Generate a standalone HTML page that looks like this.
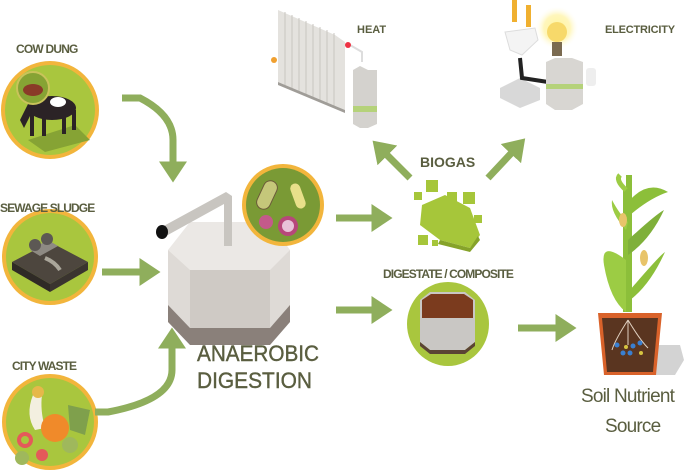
<!DOCTYPE html>
<html><head><meta charset="utf-8"><style>
html,body{margin:0;padding:0;background:#fff}
svg{display:block}
text{font-family:"Liberation Sans",sans-serif;fill:#5a5e40}
</style></head><body>
<svg width="685" height="470" viewBox="0 0 685 470" xmlns="http://www.w3.org/2000/svg">
<defs>
<marker id="ah" markerWidth="4" markerHeight="4" refX="1.5" refY="2" orient="auto" markerUnits="strokeWidth"><path d="M0,0 L3,2 L0,4 Z" fill="#8fae5c"/></marker>
<radialGradient id="glow"><stop offset="0" stop-color="#fff59a"/><stop offset="0.6" stop-color="#fff3a0" stop-opacity="0.7"/><stop offset="1" stop-color="#fff" stop-opacity="0"/></radialGradient>
</defs>

<g>
<circle cx="50" cy="110" r="49" fill="#f2b53c"/><circle cx="50" cy="110" r="45" fill="#a9c63e"/>
<path d="M28,140 L75,125 L90,140 L45,152 Z" fill="#86a334"/>
<ellipse cx="52" cy="108" rx="24" ry="12" fill="#2b2326"/>
<ellipse cx="58" cy="102" rx="8" ry="5" fill="#fff"/>
<rect x="30" y="110" width="4" height="26" fill="#2b2326"/><rect x="42" y="112" width="4" height="24" fill="#2b2326"/><rect x="62" y="112" width="4" height="22" fill="#2b2326"/><rect x="72" y="110" width="4" height="20" fill="#2b2326"/>
<path d="M30,100 L20,120 L24,128 L32,112Z" fill="#2b2326"/>
<circle cx="33" cy="88" r="16" fill="#86a334" stroke="#c9c35a" stroke-width="2"/>
<ellipse cx="33" cy="90" rx="10" ry="6" fill="#8a3a28"/>
</g>
<g>
<circle cx="50" cy="257" r="48" fill="#f2b53c"/><circle cx="50" cy="257" r="44" fill="#a9c63e"/>
<path d="M12,262 L50,242 L88,262 L50,284 Z" fill="#4d463e"/>
<path d="M12,262 L50,284 L50,292 L12,270Z" fill="#2f2a26"/><path d="M88,262 L50,284 L50,292 L88,270Z" fill="#3a342f"/>
<path d="M30,250 L48,240 L58,246 L40,256Z" fill="#8e8a83"/>
<circle cx="35" cy="245" r="6" fill="#5c5854"/><circle cx="47" cy="239" r="6" fill="#5c5854"/>
<path d="M45,258 Q55,262 60,270" stroke="#aaa69a" stroke-width="4" fill="none"/>
</g>
<g>
<circle cx="50" cy="422" r="48" fill="#f2b53c"/><circle cx="50" cy="422" r="44" fill="#a9c63e"/>
<path d="M33,395 Q25,415 35,430 L45,428 Q40,410 42,395Z" fill="#f3efe0"/>
<circle cx="38" cy="392" r="6" fill="#e6b84a"/>
<circle cx="55" cy="428" r="14" fill="#f08a2a"/>
<path d="M68,405 L90,410 L85,435 L70,430Z" fill="#7fa04c"/>
<circle cx="25" cy="440" r="8" fill="#e45a5a"/><circle cx="25" cy="440" r="4" fill="#a9c63e"/>
<circle cx="42" cy="455" r="6" fill="#e45a5a"/>
<circle cx="70" cy="445" r="8" fill="#9fb85c"/><circle cx="22" cy="458" r="7" fill="#9fb85c"/>
</g>
<text x="16" y="53" font-size="12" font-weight="bold" letter-spacing="-0.8">COW DUNG</text>
<text x="0" y="212" font-size="12" font-weight="bold" letter-spacing="-0.9">SEWAGE SLUDGE</text>
<text x="12" y="370" font-size="12" font-weight="bold" letter-spacing="-0.9">CITY WASTE</text>

<g stroke="#8fae5c" stroke-width="7" fill="none">
<path d="M122,98 L140,98 Q173,115 173,140 L173,172" marker-end="url(#ah)"/>
<path d="M102,272 L150,272" marker-end="url(#ah)"/>
<path d="M95,412 L108,412 Q172,400 172,370 L172,338" marker-end="url(#ah)"/>
<path d="M336,218 L382,218" marker-end="url(#ah)"/>
<path d="M336,310 L382,310" marker-end="url(#ah)"/>
<path d="M518,328 L566,328" marker-end="url(#ah)"/>
<path d="M410,178 L380,148" marker-end="url(#ah)"/>
<path d="M488,178 L518,146" marker-end="url(#ah)"/>
</g>

<g>
<path d="M168,300 L168,322 L190,345 L270,345 L290,322 L290,300 Z" fill="#8a807a"/>
<path d="M168,250 L168,305 L190,328 L270,328 L290,305 L290,250 Z" fill="#dedad6"/>
<path d="M190,270 L270,270 L270,328 L190,328Z" fill="#cfcac5"/>
<path d="M168,250 L190,222 L270,222 L290,250 L270,270 L190,270Z" fill="#ebe8e5"/>
<path d="M160,228 L226,192 L232,196 L232,246 L224,246 L224,204 L166,236Z" fill="#c8c5c0"/>
<ellipse cx="162" cy="232" rx="6" ry="7" fill="#111"/>
<circle cx="283" cy="205" r="41" fill="#f2b53c"/><circle cx="283" cy="205" r="37" fill="#7a9a35"/>
<rect x="260" y="180" width="14" height="30" rx="7" transform="rotate(25 267 195)" fill="#c5c77a" stroke="#6b5a3a"/>
<rect x="293" y="183" width="10" height="26" rx="5" transform="rotate(-20 298 196)" fill="#e8e08a"/>
<circle cx="266" cy="222" r="7" fill="#c45a8a"/><circle cx="288" cy="226" r="10" fill="#b7477a"/><circle cx="288" cy="226" r="6" fill="#e8c2d8"/>
</g>
<text x="197" y="361" font-size="22" textLength="122" lengthAdjust="spacingAndGlyphs" stroke="#5a5e40" stroke-width="0.4">ANAEROBIC</text>
<text x="197" y="388" font-size="22" textLength="115" lengthAdjust="spacingAndGlyphs" stroke="#5a5e40" stroke-width="0.4">DIGESTION</text>

<g fill="#a6c63a">
<path d="M422,205 L445,195 L470,208 L480,235 L470,248 L440,240 L420,225Z"/>
<path d="M440,240 L470,248 L478,236 L480,240 L470,252 L438,244Z" fill="#86a32a"/>
<rect x="426" y="180" width="12" height="12"/><rect x="414" y="192" width="8" height="8"/>
<rect x="447" y="192" width="10" height="10"/><rect x="463" y="192" width="12" height="12"/>
<rect x="474" y="215" width="8" height="8"/><rect x="418" y="235" width="10" height="10"/><rect x="432" y="240" width="6" height="6"/>
</g>
<text x="420" y="167" font-size="14" font-weight="bold">BIOGAS</text>

<g>
<path d="M278,10 L335,35 L345,42 L345,110 L278,82Z" fill="#e4e2de"/>
<g stroke="#c9c6c0" stroke-width="1">
<line x1="285" y1="12" x2="285" y2="85"/><line x1="292" y1="15" x2="292" y2="88"/><line x1="299" y1="18" x2="299" y2="91"/><line x1="306" y1="21" x2="306" y2="94"/><line x1="313" y1="24" x2="313" y2="97"/><line x1="320" y1="27" x2="320" y2="100"/><line x1="327" y1="30" x2="327" y2="103"/><line x1="334" y1="33" x2="334" y2="106"/>
</g>
<path d="M278,82 L345,110 L345,113 L278,85Z" fill="#a09d98"/>
<circle cx="274" cy="60" r="3" fill="#f0a030"/>
<path d="M350,45 L362,52 L362,62" stroke="#ddd" stroke-width="2" fill="none"/>
<circle cx="348" cy="45" r="3" fill="#e34"/>
<path d="M353,70 L360,66 L368,70 L377,70 L377,124 L368,128 L360,128 L353,124Z" fill="#d4d2ce"/>
<rect x="353" y="106" width="24" height="6" fill="#b5d27a"/>
</g>
<text x="357" y="33" font-size="11" font-weight="bold">HEAT</text>

<g>
<circle cx="557" cy="28" r="22" fill="url(#glow)"/>
<path d="M500,88 L520,78 L540,88 L540,100 L520,108 L500,98Z" fill="#d8d8d8"/>
<rect x="512" y="0" width="5" height="22" fill="#f0b030"/><rect x="526" y="5" width="5" height="22" fill="#f0b030"/>
<path d="M505,32 L535,28 L538,40 L522,55 L510,50Z" fill="#f4f4f4" stroke="#ddd"/>
<path d="M520,58 L522,78 L548,82" stroke="#222" stroke-width="4" fill="none"/>
<circle cx="557" cy="32" r="10" fill="#f7d96a"/>
<rect x="552" y="42" width="10" height="14" fill="#7a6a50"/>
<path d="M546,62 L555,58 L572,58 L583,62 L583,104 L572,110 L555,110 L546,104Z" fill="#d8d6d2"/>
<rect x="546" y="84" width="37" height="5" fill="#b5d27a"/>
<rect x="586" y="68" width="10" height="18" rx="3" fill="#eee"/>
</g>
<text x="605" y="33" font-size="11" font-weight="bold" letter-spacing="-0.2">ELECTRICITY</text>

<text x="383" y="278" font-size="12" font-weight="bold" letter-spacing="-0.9">DIGESTATE / COMPOSITE</text>
<g>
<ellipse cx="448" cy="324" rx="41" ry="42" fill="#a9c63e"/>
<path d="M420,300 L430,292 L465,292 L475,300 L475,342 L465,350 L430,350 L420,342Z" fill="#c9c7c4"/>
<path d="M422,300 L431,294 L464,294 L473,300 L473,318 L422,318Z" fill="#7b3b1e"/>
<path d="M420,342 L430,350 L465,350 L475,342 L475,346 L465,354 L430,354 L420,346Z" fill="#5b4434"/>
</g>

<g>
<path d="M655,345 L680,345 L684,360 L675,375 L655,375Z" fill="#d3d3d3"/>
<path d="M626,312 L626,190 M629,312 L629,175" stroke="#8cbf3a" stroke-width="6"/>
<path d="M626,260 Q600,240 604,265 Q610,300 626,312Z" fill="#9ccc44"/>
<path d="M630,290 Q660,255 665,252 Q650,285 630,300Z" fill="#8cbf3a"/>
<path d="M628,240 Q655,215 664,210 Q650,240 628,255Z" fill="#7fb03a"/>
<path d="M626,230 Q610,212 612,200 Q620,215 628,222Z" fill="#9ccc44"/>
<path d="M630,200 Q648,180 668,192 Q650,198 630,215Z" fill="#8cbf3a"/>
<path d="M626,190 Q615,180 620,175" stroke="#9ccc44" stroke-width="5" fill="none"/>
<ellipse cx="644" cy="258" rx="4" ry="8" fill="#e8c46a"/><ellipse cx="623" cy="220" rx="4" ry="7" fill="#e8c46a"/>
<path d="M598,313 L662,313 L656,375 L604,375Z" fill="#d9622a"/>
<path d="M602,318 L658,318 L653,372 L607,372Z" fill="#5a3520"/>
<path d="M628,320 Q615,340 612,350 M628,320 Q640,340 648,348 M628,320 L628,345" stroke="#e0d0c0" stroke-width="1" fill="none"/>
<g fill="#3a7fd0"><circle cx="617" cy="345" r="2.5"/><circle cx="633" cy="346" r="2.5"/><circle cx="640" cy="343" r="2.5"/><circle cx="623" cy="353" r="2.5"/><circle cx="630" cy="353" r="2.5"/></g>
<g fill="#d6c440"><circle cx="626" cy="347" r="2"/><circle cx="641" cy="353" r="2"/></g>
</g>
<text x="581" y="402" font-size="19" letter-spacing="-0.8">Soil Nutrient</text>
<text x="605" y="432" font-size="19" letter-spacing="-0.8">Source</text>
</svg>
</body></html>
